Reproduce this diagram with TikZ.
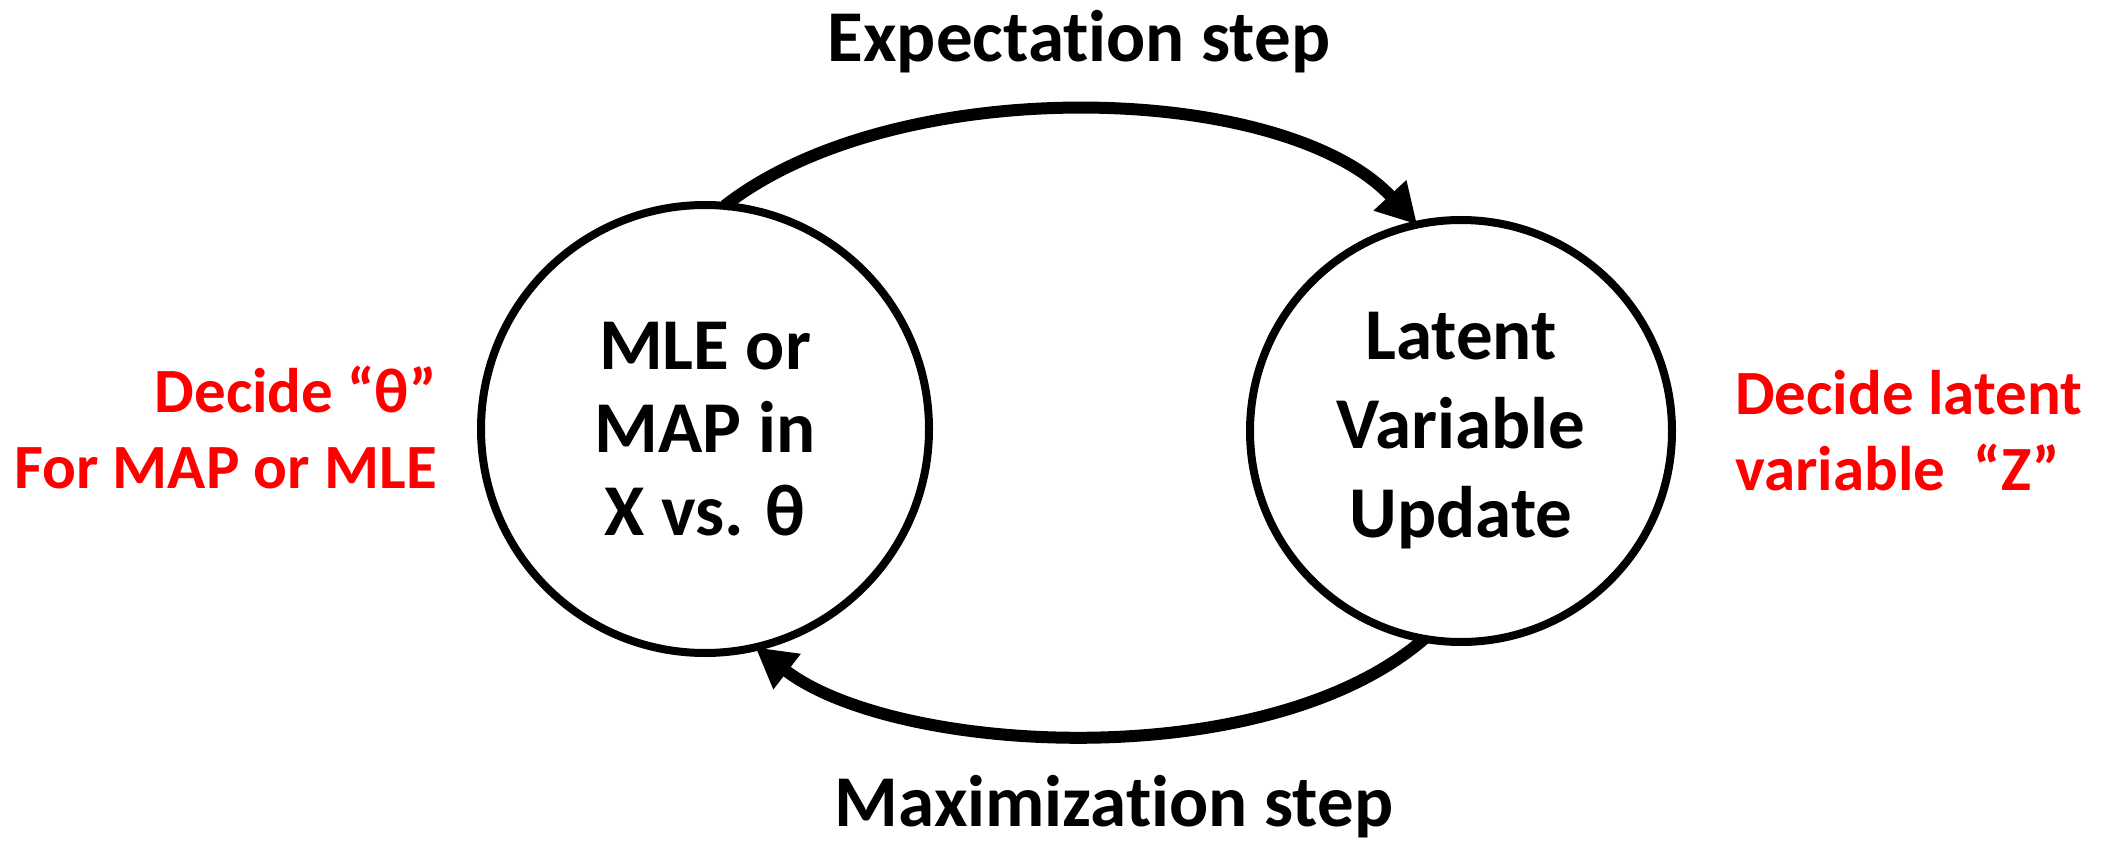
\documentclass[tikz,border=0pt]{standalone}
\usepackage{fontspec}
\setmainfont{Carlito}[Ligatures={TeX,NoCommon}]
\usetikzlibrary{positioning,arrows.meta}

\begin{document}
\begin{tikzpicture}[x=1pt,y=-1pt,
	statenode/.style={circle, draw=black, line width=8pt, inner sep=0pt, outer sep=0pt, align=center, font=\fontsize{73}{83}\selectfont\bfseries},
	steplabel/.style={anchor=base, inner sep=0pt, font=\fontsize{73}{85}\selectfont\bfseries},
	notelabel/.style={text=red, inner sep=0pt, font=\fontsize{63}{76}\selectfont\bfseries},
	steparrow/.style={-{Triangle[length=40pt,width=42pt]}, line width=12pt},
	]
	\useasboundingbox (0,0) rectangle (2110,845);
	%Nodes
	\node[statenode, minimum size=448pt] (mle)    at (705,429)  {MLE or\\MAP in\\X vs. θ};
	\node[statenode, minimum size=422pt, font=\fontsize{73}{89}\selectfont\bfseries] (latent) at (1461,431) {Latent\\Variable\\Update};
	\node[steplabel] (estep) at (1079,62)  {Expectation step};
	\node[steplabel] (mstep) at (1114,826) {Maximization step};
	\node[notelabel, align=right, anchor=base east] (theta) at (437,488)  {Decide “θ”\\For MAP or MLE};
	\node[notelabel, align=left, anchor=base west]  (zvar)  at (1735,490) {Decide latent\\variable~~“Z”};
	
	%Lines
	\draw[steparrow] (mle.85) .. controls +(173,-135) and +(-133,-143) .. (latent.102);
	\draw[steparrow] (latent.260) .. controls +(-160,138) and +(139,107) .. (mle.283);
\end{tikzpicture}
\end{document}
